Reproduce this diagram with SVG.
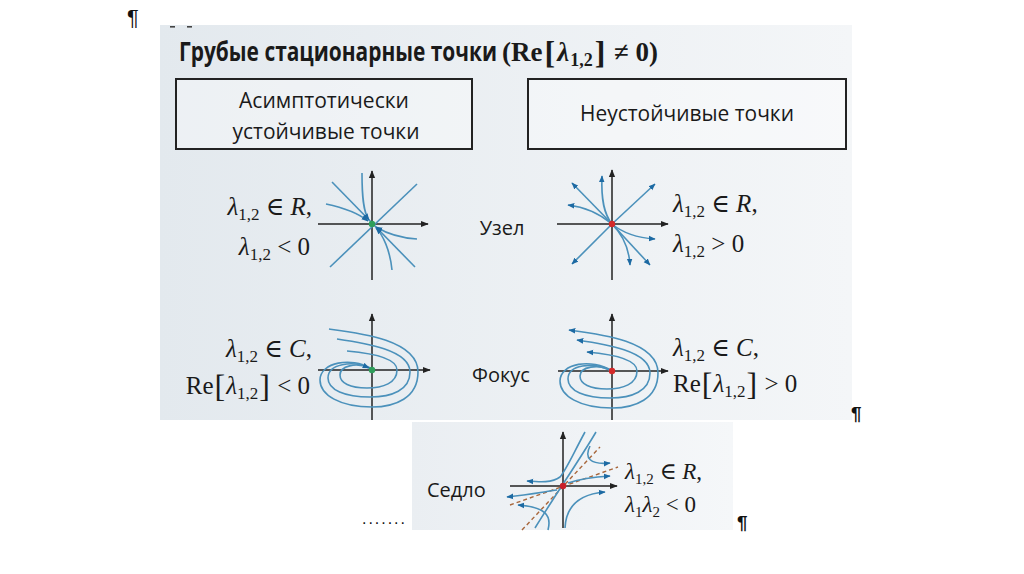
<svg xmlns="http://www.w3.org/2000/svg" width="1024" height="574" viewBox="0 0 1024 574">
<defs>
<linearGradient id="bg" x1="0" y1="0" x2="1" y2="0">
<stop offset="0" stop-color="#e3e9ee"/><stop offset="1" stop-color="#f4f6f8"/>
</linearGradient>
<linearGradient id="bg2" x1="0" y1="0" x2="1" y2="0">
<stop offset="0" stop-color="#eaeef2"/><stop offset="1" stop-color="#f5f7f9"/>
</linearGradient>
<marker id="ax" viewBox="0 0 10 10" refX="9" refY="5" markerWidth="8" markerHeight="8" markerUnits="userSpaceOnUse" orient="auto"><path d="M0,1 L10,5 L0,9 z" fill="#222"/></marker>
<marker id="ar" viewBox="0 0 10 10" refX="9" refY="5" markerWidth="7" markerHeight="7" markerUnits="userSpaceOnUse" orient="auto-start-reverse"><path d="M0,1 L10,5 L0,9 z" fill="#1d6aa3"/></marker>
</defs>
<style>
.ax{stroke:#222;stroke-width:1.5;fill:none;marker-end:url(#ax)}
.tr{stroke:#4b91bb;stroke-width:1.6;fill:none}
.tra{stroke:#4b91bb;stroke-width:1.6;fill:none;marker-end:url(#ar)}
.trs{stroke:#4b91bb;stroke-width:1.6;fill:none;marker-start:url(#ar)}
.dash{stroke:#a8673c;stroke-width:1.4;fill:none;stroke-dasharray:4 3}
.sans{font-family:"Open Sans","Noto Sans","Liberation Sans",sans-serif;fill:#1a1a1a}
.math{font-family:"Liberation Serif","DejaVu Serif",serif;fill:#1a1a1a}
.it{font-style:italic}
.box{fill:#ffffff;fill-opacity:0.35;stroke:#222;stroke-width:2}
.pil{font-family:"Liberation Sans",sans-serif;fill:#111}
</style>
<rect width="1024" height="574" fill="#ffffff"/>
<g id="panel-main">
<rect x="160" y="25" width="692" height="395" fill="url(#bg)"/>
<rect x="170" y="26" width="5" height="1.6" fill="#444"/>
<rect x="187" y="26" width="5" height="1.6" fill="#444"/>
</g>
<g id="panel-saddle">
<rect x="412" y="422" width="321" height="108" fill="url(#bg2)"/>
</g>
<g id="marks">
<text class="pil" x="127" y="25" font-size="22">¶</text>
<text class="pil" x="851" y="420" font-size="19" font-weight="700">¶</text>
<text class="pil" x="737" y="529" font-size="19" font-weight="700">¶</text>
<text class="pil" x="362" y="524" font-size="16" textLength="43" lengthAdjust="spacing">.......</text>
</g>
<g id="title">
<text class="sans" x="179" y="61" font-size="26" font-weight="700" textLength="318" lengthAdjust="spacingAndGlyphs">Грубые стационарные точки</text>
<text class="math" x="502" y="61" font-size="27" font-weight="700">(Re<tspan font-size="32" dx="2" dy="2">[</tspan><tspan class="it" dx="2" dy="-2">λ</tspan><tspan font-size="18" dx="1" dy="5">1,2</tspan><tspan font-size="32" dx="2" dy="-3">]</tspan><tspan dx="2" dy="-2"> ≠ 0)</tspan></text>
</g>
<g id="box-stable">
<rect class="box" x="176" y="79" width="296" height="70"/>
<text class="sans" x="324" y="108" font-size="22" text-anchor="middle" textLength="170" lengthAdjust="spacingAndGlyphs">Асимптотически</text>
<text class="sans" x="326" y="139" font-size="22" text-anchor="middle" textLength="187" lengthAdjust="spacingAndGlyphs">устойчивые точки</text>
</g>
<g id="box-unstable">
<rect class="box" x="528" y="79" width="318" height="70"/>
<text class="sans" x="687" y="121" font-size="22" text-anchor="middle" textLength="214" lengthAdjust="spacingAndGlyphs">Неустойчивые точки</text>
</g>
<g id="node-stable">
<line class="ax" x1="318" y1="224" x2="428" y2="224"/>
<line class="ax" x1="372" y1="280" x2="372" y2="171"/>
<path class="tr" d="M332,182 L415,267"/>
<path class="tr" d="M330,267 L417,184"/>
<path class="tra" d="M362,173 C362,195 363,212 369,220"/>
<path class="tra" d="M326,204 C345,208 358,213 368,221"/>
<path class="tra" d="M392,270 C390,250 383,235 376,228"/>
<path class="tra" d="M417,239 C400,238 386,233 376,227"/>
<circle cx="372" cy="224" r="3.2" fill="#2e9e5b"/>
</g>
<g id="label-stable-node">
<text class="math" x="312" y="215" font-size="25" text-anchor="end"><tspan class="it">λ</tspan><tspan font-size="17" dy="5">1,2</tspan><tspan dy="-5"> ∈ </tspan><tspan class="it">R</tspan>,</text>
<text class="math" x="310" y="255" font-size="25" text-anchor="end"><tspan class="it">λ</tspan><tspan font-size="17" dy="5">1,2</tspan><tspan dy="-5"> &lt; 0</tspan></text>
</g>
<g id="label-uzel">
<text class="sans" x="502" y="235" font-size="20" text-anchor="middle">Узел</text>
</g>
<g id="node-unstable">
<line class="ax" x1="557" y1="224" x2="668" y2="224"/>
<line class="ax" x1="612" y1="280" x2="612" y2="170"/>
<path class="tra" d="M612,224 L655,184"/>
<path class="tra" d="M612,224 L572,264"/>
<path class="tra" d="M612,224 L572,183"/>
<path class="tra" d="M612,224 L650,265"/>
<path class="tra" d="M612,224 C604,214 601,200 602,176"/>
<path class="tra" d="M612,224 C600,214 585,207 568,205"/>
<path class="tra" d="M612,224 C622,234 629,248 630,265"/>
<path class="tra" d="M612,224 C624,234 640,238 655,239"/>
<circle cx="612" cy="224" r="3.2" fill="#d42a2a"/>
</g>
<g id="label-unstable-node">
<text class="math" x="673" y="212" font-size="25"><tspan class="it">λ</tspan><tspan font-size="17" dy="5">1,2</tspan><tspan dy="-5"> ∈ </tspan><tspan class="it">R</tspan>,</text>
<text class="math" x="673" y="252" font-size="25"><tspan class="it">λ</tspan><tspan font-size="17" dy="5">1,2</tspan><tspan dy="-5"> &gt; 0</tspan></text>
</g>
<g id="focus-stable">
<line class="ax" x1="318" y1="370" x2="430" y2="370"/>
<line class="ax" x1="372" y1="420" x2="372" y2="314"/>
<path class="tr" d="M329,329 C360,333 418,340 418,372 C418,398 395,407 372,407 C340,407 320,395 320,380 C320,362 352,357 370,368"/>
<path class="tr" d="M337,339 C365,343 410,350 410,372 C410,390 392,397 370,397 C345,397 328,390 328,378 C328,364 352,360 370,368"/>
<path class="tra" d="M347,351 C370,353 397,358 397,370 C397,383 383,388 367,388 C350,388 340,383 340,375 C340,366 356,362 369,368"/>
<circle cx="372" cy="370" r="3.2" fill="#2e9e5b"/>
</g>
<g id="label-stable-focus">
<text class="math" x="312" y="357" font-size="25" text-anchor="end"><tspan class="it">λ</tspan><tspan font-size="17" dy="5">1,2</tspan><tspan dy="-5"> ∈ </tspan><tspan class="it">C</tspan>,</text>
<text class="math" x="310" y="394" font-size="25" text-anchor="end">Re<tspan font-size="32" dx="1" dy="3">[</tspan><tspan class="it" dx="1" dy="-3">λ</tspan><tspan font-size="17" dy="5">1,2</tspan><tspan font-size="32" dx="1" dy="-2">]</tspan><tspan dx="1" dy="-3"> &lt; 0</tspan></text>
</g>
<g id="label-fokus">
<text class="sans" x="501" y="382" font-size="20" text-anchor="middle">Фокус</text>
</g>
<g id="focus-unstable">
<line class="ax" x1="558" y1="371" x2="668" y2="371"/>
<line class="ax" x1="612" y1="420" x2="612" y2="314"/>
<g transform="translate(240,1)">
<path class="trs" d="M329,329 C360,333 418,340 418,372 C418,398 395,407 372,407 C340,407 320,395 320,380 C320,362 352,357 372,370"/>
<path class="trs" d="M337,339 C365,343 410,350 410,372 C410,390 392,397 370,397 C345,397 328,390 328,378 C328,364 352,360 372,370"/>
<path class="trs" d="M347,351 C370,353 397,358 397,370 C397,383 383,388 367,388 C350,388 340,383 340,375 C340,366 358,362 372,370"/>
</g>
<circle cx="612" cy="371" r="3.2" fill="#d42a2a"/>
</g>
<g id="label-unstable-focus">
<text class="math" x="673" y="356" font-size="25"><tspan class="it">λ</tspan><tspan font-size="17" dy="5">1,2</tspan><tspan dy="-5"> ∈ </tspan><tspan class="it">C</tspan>,</text>
<text class="math" x="673" y="392" font-size="25">Re<tspan font-size="32" dx="1" dy="3">[</tspan><tspan class="it" dx="1" dy="-3">λ</tspan><tspan font-size="17" dy="5">1,2</tspan><tspan font-size="32" dx="1" dy="-2">]</tspan><tspan dx="1" dy="-3"> &gt; 0</tspan></text>
</g>
<g id="saddle">
<line class="ax" x1="510" y1="486" x2="617" y2="486"/>
<line class="ax" x1="563" y1="528" x2="563" y2="432"/>
<path class="dash" d="M522,530 L600,447"/>
<path class="dash" d="M510,505 L618,467"/>
<path class="tr" d="M596,432 C582,456 552,500 535,528"/>
<path class="tra" d="M585,432 C572,456 566,470 560,477 C552,483 540,482 527,481"/>
<path class="tra" d="M590,446 C584,458 590,465 610,463"/>
<path class="tra" d="M568,483 C580,479 594,477 610,476"/>
<path class="tra" d="M565,528 C566,505 580,494 605,492"/>
<path class="tra" d="M557,490 C543,492 526,495 507,497"/>
<path class="tra" d="M548,530 C552,515 545,507 518,505"/>
<circle cx="563" cy="486" r="3.2" fill="#c8202a"/>
</g>
<g id="label-saddle">
<text class="sans" x="427" y="497" font-size="20">Седло</text>
<text class="math" x="625" y="479" font-size="23"><tspan class="it">λ</tspan><tspan font-size="15" dy="5">1,2</tspan><tspan dy="-5"> ∈ </tspan><tspan class="it">R</tspan>,</text>
<text class="math" x="625" y="512" font-size="23"><tspan class="it">λ</tspan><tspan font-size="15" dy="5">1</tspan><tspan class="it" dy="-5">λ</tspan><tspan font-size="15" dy="5">2</tspan><tspan dy="-5"> &lt; 0</tspan></text>
</g>
</svg>
